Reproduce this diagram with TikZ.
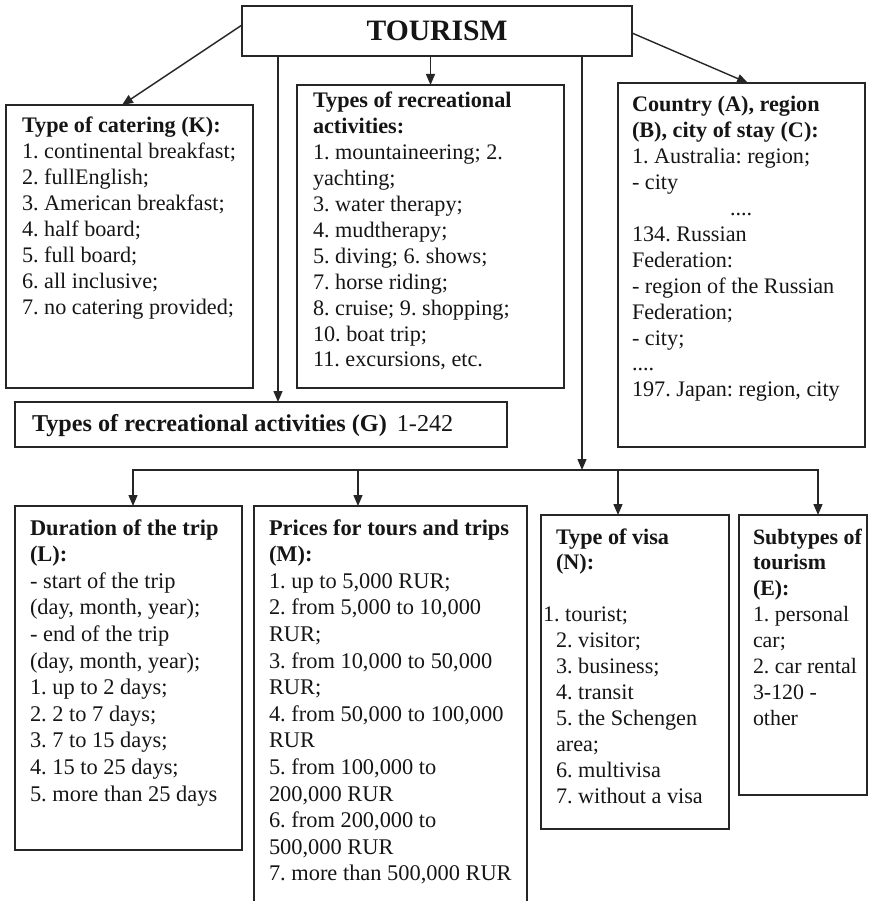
\documentclass[tikz,border=0pt]{standalone}
\usepackage{fontspec}
\setmainfont{Liberation Serif}
\usetikzlibrary{arrows.meta,calc}

\definecolor{ink}{HTML}{151515}
\definecolor{rule}{HTML}{262626}

% body text of the panels
\newcommand\listfont{\fontsize{22.2}{25.9}\selectfont}
\newcommand\listfontwide{\fontsize{22.4}{26.6}\selectfont}

\tikzset{
  panel/.style={draw=rule, line width=1.4pt, inner sep=0pt, outer sep=0pt, anchor=north west},
  itemtext/.style={inner sep=0pt, outer sep=0pt, anchor=base west, text=ink},
  wire/.style={draw=rule, line width=1.4pt, line cap=rect},
  feed/.style={draw=rule, line width=1.4pt, -{Triangle[length=11pt,width=9pt]}},
}

\frenchspacing

\begin{document}
\begin{tikzpicture}[x=1pt,y=-1pt]
\useasboundingbox (0,0) rectangle (878,901);
\clip (0,0) rectangle (878,901);

% root
\node[panel, anchor=center, minimum width=390pt, minimum height=50pt,
      font=\fontsize{29.6}{34}\selectfont\bfseries, text=ink] (tourism) at (437,31) {TOURISM};

% frames
\node[panel, minimum width=247pt, minimum height=283pt] (catering)   at (6,105)   {};
\node[panel, minimum width=267pt, minimum height=303pt] (recreation) at (297,85)  {};
\node[panel, minimum width=247pt, minimum height=364pt] (country)    at (618,83)  {};
\node[panel, minimum width=492pt, minimum height=45pt]  (activities) at (15,402)  {};
\node[panel, minimum width=227pt, minimum height=344pt] (duration)   at (15,506)  {};
\node[panel, minimum width=273pt, minimum height=420pt] (prices)     at (254,506) {};
\node[panel, minimum width=188pt, minimum height=314pt] (visa)       at (541,515) {};
\node[panel, minimum width=128pt, minimum height=280pt] (subtypes)   at (739,515) {};

% texts
\node[itemtext, font=\listfont] (catering-text) at (22,133) {\parbox[t]{300pt}{%
\textbf{Type of catering (K):}\\
1. continental breakfast;\\
2. fullEnglish;\\
3. American breakfast;\\
4. half board;\\
5. full board;\\
6. all inclusive;\\
7. no catering provided;}};

\node[itemtext, font=\listfont] (recreation-text) at (313,108) {\parbox[t]{300pt}{%
\textbf{Types of recreational}\\
\textbf{activities:}\\
1. mountaineering; 2.\\
yachting;\\
3. water therapy;\\
4. mudtherapy;\\
5. diving; 6. shows;\\
7. horse riding;\\
8. cruise; 9. shopping;\\
10. boat trip;\\
11. excursions, etc.}};

\node[itemtext, font=\listfont] (country-text) at (632,112) {\parbox[t]{300pt}{%
\textbf{Country (A), region}\\
\textbf{(B), city of stay (C):}\\
1. Australia: region;\\
- city\\
\hspace*{98pt}....\\
134. Russian\\
Federation:\\
- region of the Russian\\
Federation;\\
- city;\\
....\\
197. Japan: region, city}};

\node[itemtext, font=\fontsize{24.2}{28}\selectfont] (activities-text) at (32,431)
  {\textbf{Types of recreational activities (G)}\hspace{10pt}1-242};

\node[itemtext, font=\listfontwide] (duration-text) at (30,535) {\parbox[t]{300pt}{%
\textbf{Duration of the trip}\\
\textbf{(L):}\\
- start of the trip\\
(day, month, year);\\
- end of the trip\\
(day, month, year);\\
1. up to 2 days;\\
2. 2 to 7 days;\\
3. 7 to 15 days;\\
4. 15 to 25 days;\\
5. more than 25 days}};

\node[itemtext, font=\listfontwide] (prices-text) at (269,535) {\parbox[t]{300pt}{%
\textbf{Prices for tours and trips}\\
\textbf{(M):}\\
1. up to 5,000 RUR;\\
2. from 5,000 to 10,000\\
RUR;\\
3. from 10,000 to 50,000\\
RUR;\\
4. from 50,000 to 100,000\\
RUR\\
5. from 100,000 to\\
200,000 RUR\\
6. from 200,000 to\\
500,000 RUR\\
7. more than 500,000 RUR}};

\node[itemtext, font=\listfont] (visa-text) at (556,544) {\parbox[t]{300pt}{%
\textbf{Type of visa}\\
\textbf{(N):}\\
\mbox{}\\
\hspace*{-13pt}1. tourist;\\
2. visitor;\\
3. business;\\
4. transit\\
5. the Schengen\\
area;\\
6. multivisa\\
7. without a visa}};

\node[itemtext, font=\fontsize{21.9}{25.9}\selectfont] (subtypes-text) at (753,544) {\parbox[t]{300pt}{%
\textbf{Subtypes of}\\
\textbf{tourism}\\
\textbf{(E):}\\
1. personal\\
car;\\
2. car rental\\
3-120 -\\
other}};

% connectors from the root
\draw[feed] ([yshift=6pt]tourism.west) -- ([xshift=-7.5pt]catering.north);
\draw[feed] ([yshift=-2pt]tourism.east) -- ([xshift=6.5pt]country.north);
\draw[feed] (tourism.south -| recreation.north) -- (recreation.north);

\coordinate (split-left) at (278,0);
\draw[feed] (tourism.south -| split-left) -- (activities.north -| split-left);

\coordinate (hub) at (582,470);
\draw[feed] (tourism.south -| hub) -- (hub);

% distribution bus to the lower row
\coordinate (bus-west)    at (133,470);
\coordinate (bus-east)    at (818,470);
\coordinate (drop-prices) at (358,470);
\coordinate (drop-visa)   at (618,470);
\draw[wire] (bus-west) -- (bus-east);
\draw[feed] (bus-west)    -- (duration.north -| bus-west);
\draw[feed] (drop-prices) -- (prices.north -| drop-prices);
\draw[feed] (drop-visa)   -- (visa.north -| drop-visa);
\draw[feed] (bus-east)    -- (subtypes.north -| bus-east);
\end{tikzpicture}
\end{document}
